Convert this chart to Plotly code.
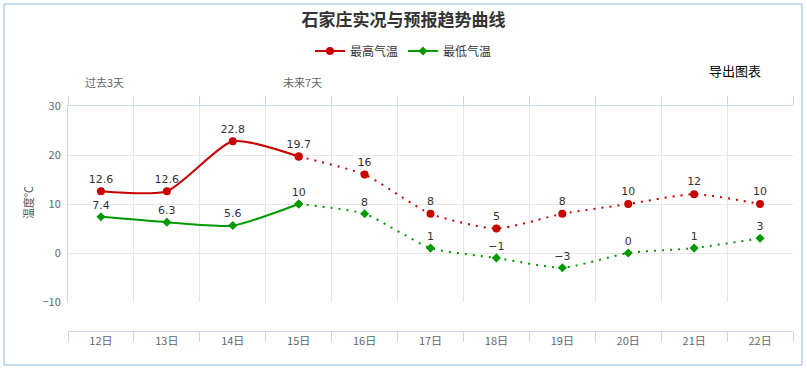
import plotly.graph_objects as go

days = ["12日", "13日", "14日", "15日", "16日", "17日", "18日", "19日", "20日", "21日", "22日"]
t_max = [12.6, 12.6, 22.8, 19.7, 16, 8, 5, 8, 10, 12, 10]
t_min = [7.4, 6.3, 5.6, 10, 8, 1, -1, -3, 0, 1, 3]
n_past = 4  # observed points (solid line), forecast continues dotted from the last one

RED = "#c80000"
GREEN = "#009900"
FONT = "Noto Sans CJK SC, DejaVu Sans, sans-serif"
NUMFONT = "DejaVu Sans, Noto Sans CJK SC, sans-serif"
SMOOTH = 0.6


def fmt(v):
    return ("%g" % v).replace("-", "−")


fig = go.Figure()

for name, vals, color, sym, msize in [
    ("最高气温", t_max, RED, "circle", 8),
    ("最低气温", t_min, GREEN, "diamond", 7),
]:
    # observed (solid)
    fig.add_trace(go.Scatter(
        x=days[:n_past], y=vals[:n_past], name=name, legendgroup=name,
        mode="lines+markers+text",
        line=dict(color=color, width=2, shape="spline", smoothing=SMOOTH),
        marker=dict(color=color, size=msize, symbol=sym),
        text=[fmt(v) for v in vals[:n_past]], textposition="top center",
        textfont=dict(size=11, color="#333333", family=NUMFONT),
        hoverinfo="skip", cliponaxis=False,
    ))
    # forecast (dotted)
    fig.add_trace(go.Scatter(
        x=days[n_past - 1:], y=vals[n_past - 1:], name=name, legendgroup=name,
        showlegend=False,
        mode="lines+markers+text",
        line=dict(color=color, width=2, shape="spline", smoothing=SMOOTH, dash="2px,6px"),
        marker=dict(color=color, size=msize, symbol=sym),
        text=[""] + [fmt(v) for v in vals[n_past:]], textposition="top center",
        textfont=dict(size=11, color="#333333", family=NUMFONT),
        hoverinfo="skip", cliponaxis=False,
    ))

# dummy trace to register categories on bottom axis
fig.add_trace(go.Scatter(x=days, y=[0] * len(days), xaxis="x2", yaxis="y",
                         mode="markers", marker=dict(opacity=0), showlegend=False,
                         hoverinfo="skip"))

fig.update_layout(
    width=807, height=370,
    margin=dict(l=68, r=14, t=106, b=39),
    paper_bgcolor="white", plot_bgcolor="white",
    font=dict(family=FONT, color="#666666", size=11),
    title=dict(text="<b>石家庄实况与预报趋势曲线</b>", x=0.5, xanchor="center",
               y=1 - 20 / 370, yanchor="middle",
               font=dict(size=17, color="#333333", family=FONT)),
    legend=dict(orientation="h", xref="container", x=0.5, xanchor="center",
                yref="container", y=1 - 51 / 370, yanchor="middle",
                font=dict(size=12, color="#333333", family=FONT),
                itemwidth=30, tracegroupgap=0),
    showlegend=True,
    xaxis=dict(type="category", categoryorder="array", categoryarray=days,
               range=[-0.5, 10.5], side="top", anchor="y",
               tickson="boundaries", ticks="outside", ticklen=9, tickcolor="#ccd6eb",
               showline=True, linecolor="#ccd6eb", linewidth=1,
               showgrid=True, gridcolor="#e6e6e6", showticklabels=False,
               fixedrange=True),
    xaxis2=dict(type="category", categoryorder="array", categoryarray=days,
                range=[-0.5, 10.5], overlaying="x", anchor="free", position=0,
                side="bottom", tickson="boundaries", ticks="outside", ticklen=10,
                tickcolor="#ccd6eb", showline=True, linecolor="#ccd6eb", linewidth=1,
                showgrid=False, tickfont=dict(size=11, color="#666666", family=FONT),
                fixedrange=True),
    yaxis=dict(range=[-10, 30], dtick=10, domain=[29 / 225, 1],
               showgrid=True, gridcolor="#e6e6e6", zeroline=False,
               showline=True, linecolor="#ccd6eb", linewidth=1,
               tickfont=dict(size=11, color="#666666", family=FONT),
               ticks="outside", ticklen=4, tickcolor="rgba(0,0,0,0)",
               fixedrange=True),
)

fig.add_annotation(text="温度℃", xref="paper", yref="paper",
                   x=(28 - 68) / 725, y=(331 - 203) / 225, textangle=-90,
                   showarrow=False, xanchor="center", yanchor="middle",
                   font=dict(size=11, color="#555555", family=FONT))
fig.add_annotation(text="导出图表", xref="paper", yref="paper",
                   x=(735 - 68) / 725, y=(331 - 70) / 225, showarrow=False,
                   xanchor="center", yanchor="middle",
                   font=dict(size=13, color="#000000", family=FONT))
fig.add_annotation(text="过去3天", xref="paper", yref="paper",
                   x=(104 - 68) / 725, y=(331 - 82) / 225, showarrow=False,
                   xanchor="center", yanchor="middle",
                   font=dict(size=11, color="#666666", family=FONT))
fig.add_annotation(text="未来7天", xref="paper", yref="paper",
                   x=(302 - 68) / 725, y=(331 - 82) / 225, showarrow=False,
                   xanchor="center", yanchor="middle",
                   font=dict(size=11, color="#666666", family=FONT))

fig.add_shape(type="rect", xref="paper", yref="paper",
              x0=(4 - 68) / 725, x1=(802 - 68) / 725,
              y0=(331 - 365) / 225, y1=(331 - 4) / 225,
              line=dict(color="#8cb8e8", width=1), fillcolor="rgba(0,0,0,0)",
              layer="below")

fig.write_html("out.html", config={"displayModeBar": False},
               post_script="document.body.style.margin='0px';")
